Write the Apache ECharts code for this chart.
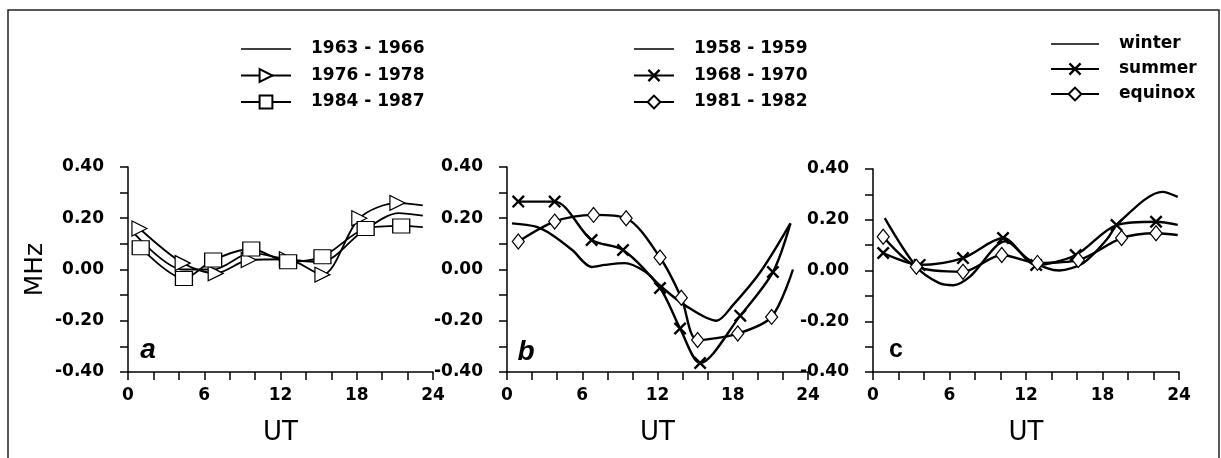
<!DOCTYPE html>
<html><head><meta charset="utf-8">
<script src="https://cdn.jsdelivr.net/npm/echarts@6/dist/echarts.min.js"></script>
<style>html,body{margin:0;padding:0;background:#fff}#c{width:1221px;height:458px}</style>
</head><body><div id="c"></div>
<script>
// ---- data ----
const panelLetters = ['a', 'b', 'c'];
const xTickHours = [0, 6, 12, 18, 24];
const yTickValues = [-0.4, -0.2, 0, 0.2, 0.4];

// panel a
const namesA = ['1963 - 1966', '1976 - 1978', '1984 - 1987'];
const a1963Hours = [0.5, 4.3, 6.7, 9.7, 12.5, 15.2, 18.5, 21.3, 23.2];
const a1963Vals  = [0.14, 0.0, 0.0, 0.065, 0.04, 0.03, 0.15, 0.22, 0.21];
const a1976Hours = [0.9, 4.3, 6.9, 9.5, 12.5, 15.3, 18.2, 21.2, 23.2];
const a1976Vals  = [0.16, 0.025, -0.015, 0.037, 0.04, -0.02, 0.20, 0.26, 0.25];
const a1984Hours = [1.0, 4.4, 6.7, 9.7, 12.6, 15.3, 18.7, 21.5, 23.2];
const a1984Vals  = [0.085, -0.035, 0.037, 0.08, 0.03, 0.05, 0.16, 0.17, 0.165];

// panel b
const namesB = ['1958 - 1959', '1968 - 1970', '1981 - 1982'];
const b1958Hours = [0.4, 2.3, 3.6, 5.2, 6.75, 7.8, 9.4, 11.0, 12.3, 14.2, 16.7, 18.0, 20.2, 22.6];
const b1958Vals  = [0.18, 0.167, 0.135, 0.076, 0.01, 0.018, 0.025, -0.008, -0.067, -0.14, -0.2, -0.14, -0.01, 0.18];
const b1968Hours = [0.9, 3.8, 6.75, 9.25, 12.2, 13.8, 15.4, 18.6, 21.2, 22.6];
const b1968Vals  = [0.265, 0.265, 0.115, 0.076, -0.072, -0.23, -0.365, -0.18, -0.01, 0.18];
const b1981Hours = [0.9, 3.8, 6.9, 9.5, 12.2, 13.9, 15.2, 18.4, 21.1, 22.8];
const b1981Vals  = [0.109, 0.187, 0.213, 0.2, 0.047, -0.11, -0.275, -0.25, -0.185, 0.0];

// panel c
const namesC = ['winter', 'summer', 'equinox'];
const cWinterHours = [0.92, 3.4, 5.2, 6.3, 7.6, 10.4, 12.3, 14.6, 16.5, 18.3, 19.3, 22.7, 23.9];
const cWinterVals  = [0.206, 0.015, -0.05, -0.058, -0.024, 0.115, 0.04, 0.0, 0.03, 0.12, 0.19, 0.31, 0.29];
const cSummerHours = [0.8, 3.66, 7.06, 10.2, 12.8, 15.9, 19.1, 22.2, 23.9];
const cSummerVals  = [0.069, 0.022, 0.049, 0.128, 0.022, 0.061, 0.179, 0.192, 0.18];
const cEquinoxHours = [0.8, 3.4, 7.06, 10.1, 12.9, 16.1, 19.5, 22.2, 23.9];
const cEquinoxVals  = [0.133, 0.015, -0.005, 0.061, 0.03, 0.041, 0.128, 0.147, 0.14];

// ---- styling ----
const FONT = 'DejaVu Sans';
const X_PATH = 'path://M0,1.3L1.3,0L10,8.7L8.7,10Z M8.7,0L10,1.3L1.3,10L0,8.7Z';
const LINE_ICON = 'path://M0,0L0,0M0,7.2L50,7.2L50,8.8L0,8.8Z M50,16L50,16';
const KINDS = {
  plain: { symbol: 'none' },
  tri: { symbol: 'triangle', symbolSize: 15, symbolRotate: -90, hollow: true },
  sq: { symbol: 'rect', symbolSize: [17, 14], hollow: true },
  x: { symbol: X_PATH, symbolSize: 13, hollow: false },
  dia: { symbol: 'diamond', symbolSize: [12, 15], hollow: true }
};
const panelKinds = ['plain', 'x', 'dia'];

function mkSeries(name, hours, vals, gi, kind, lw) {
  const k = KINDS[kind];
  const data = hours.map((h, i) => {
    const item = { value: [h, vals[i]] };
    if (kind !== 'plain' && i === hours.length - 1) item.symbol = 'none';
    return item;
  });
  const s = {
    type: 'line', name, xAxisIndex: gi, yAxisIndex: gi, data,
    smooth: 0.3,
    symbol: k.symbol, showSymbol: kind !== 'plain',
    lineStyle: { color: '#000', width: lw },
    itemStyle: k.hollow ? { color: '#fff', borderColor: '#000', borderWidth: 1.2 } : { color: '#000', borderColor: '#000', borderWidth: 0 },
    emphasis: { disabled: true },
    silent: true, animation: false, z: 2
  };
  if (k.symbolSize) s.symbolSize = k.symbolSize;
  if (k.symbolRotate) s.symbolRotate = k.symbolRotate;
  return s;
}

const grids = [
  { left: 128, top: 167, width: 305, height: 205 },
  { left: 507, top: 167, width: 301, height: 205 },
  { left: 873, top: 169, width: 306, height: 203 }
];

const tickLine = { color: '#000', width: 1.5 };
const xAxes = grids.map((g, i) => ({
  type: 'value', gridIndex: i, min: xTickHours[0], max: xTickHours[xTickHours.length - 1],
  interval: xTickHours[1] - xTickHours[0],
  axisLine: { onZero: false, lineStyle: { color: '#000', width: 1.5 } },
  axisTick: { length: 8, lineStyle: tickLine },
  minorTick: { show: true, splitNumber: 3, length: 8, lineStyle: tickLine },
  splitLine: { show: false },
  axisLabel: { margin: 15, color: '#000', fontFamily: FONT, fontWeight: 'bold', fontSize: 17 },
  name: 'UT', nameLocation: 'middle', nameGap: 48,
  nameTextStyle: { color: '#000', fontFamily: FONT, fontSize: 26 }
}));
const yAxes = grids.map((g, i) => ({
  type: 'value', gridIndex: i, min: yTickValues[0], max: yTickValues[yTickValues.length - 1],
  interval: yTickValues[1] - yTickValues[0],
  axisLine: { show: true, onZero: false, lineStyle: { color: '#000', width: 1.5 } },
  axisTick: { show: true, length: 8, lineStyle: tickLine },
  minorTick: { show: true, splitNumber: 2, length: 8, lineStyle: tickLine },
  splitLine: { show: false },
  axisLabel: { margin: 24, color: '#000', fontFamily: FONT, fontWeight: 'bold', fontSize: 17,
    formatter: v => v.toFixed(2) },
  name: i === 0 ? 'MHz' : '', nameLocation: 'middle', nameGap: 80, nameRotate: 90,
  nameTextStyle: { color: '#000', fontFamily: FONT, fontSize: 25 }
}));

const series = [
  mkSeries(namesA[0], a1963Hours, a1963Vals, 0, 'plain', 1.8),
  mkSeries(namesA[1], a1976Hours, a1976Vals, 0, 'tri', 1.8),
  mkSeries(namesA[2], a1984Hours, a1984Vals, 0, 'sq', 1.8),
  mkSeries(namesB[0], b1958Hours, b1958Vals, 1, 'plain', 2.4),
  mkSeries(namesB[1], b1968Hours, b1968Vals, 1, 'x', 2.4),
  mkSeries(namesB[2], b1981Hours, b1981Vals, 1, 'dia', 2.4),
  mkSeries(namesC[0], cWinterHours, cWinterVals, 2, 'plain', 2.4),
  mkSeries(namesC[1], cSummerHours, cSummerVals, 2, 'x', 2.4),
  mkSeries(namesC[2], cEquinoxHours, cEquinoxVals, 2, 'dia', 2.4)
];

function mkLegend(names, left, top, itemWidth, gap) {
  return {
    data: names.map((n, i) => i === 0 ? { name: n, icon: LINE_ICON, itemStyle: { color: '#000', borderWidth: 0 } } : n),
    orient: 'vertical', left, top, padding: 0, itemWidth, itemHeight: 16, itemGap: gap,
    selectedMode: false,
    textStyle: { color: '#000', fontFamily: FONT, fontWeight: 'bold', fontSize: 17, lineHeight: 20,
      padding: [0, 0, 0, 15] }
  };
}

const letterStyles = [
  { x: 148, y: 350, font: 'italic bold 28px "Liberation Sans", Arial' },
  { x: 526, y: 352, font: 'italic bold 28px "Liberation Sans", Arial' },
  { x: 896, y: 350, font: 'bold 25px "Liberation Sans", Arial' }
];

const option = {
  backgroundColor: '#fff',
  animation: false,
  grid: grids,
  xAxis: xAxes,
  yAxis: yAxes,
  legend: [
    mkLegend(namesA, 240, 39, 50, 6.5),
    mkLegend(namesB, 633, 39, 40, 6.5),
    mkLegend(namesC, 1050, 34, 48, 5)
  ],
  series,
  graphic: [
    { type: 'rect', shape: { x: 8, y: 10, width: 1211, height: 470 }, style: { fill: 'none', stroke: '#222', lineWidth: 1.5 }, silent: true, z: -1 }
  ].concat(panelLetters.map((t, i) => ({
    type: 'text', x: letterStyles[i].x, y: letterStyles[i].y,
    style: { text: t, font: letterStyles[i].font, fill: '#000', textAlign: 'center', textVerticalAlign: 'middle' },
    silent: true
  })))
};

const chart = echarts.init(document.getElementById('c'), null, { renderer: 'canvas' });
chart.setOption(option);
</script>
</body></html>
